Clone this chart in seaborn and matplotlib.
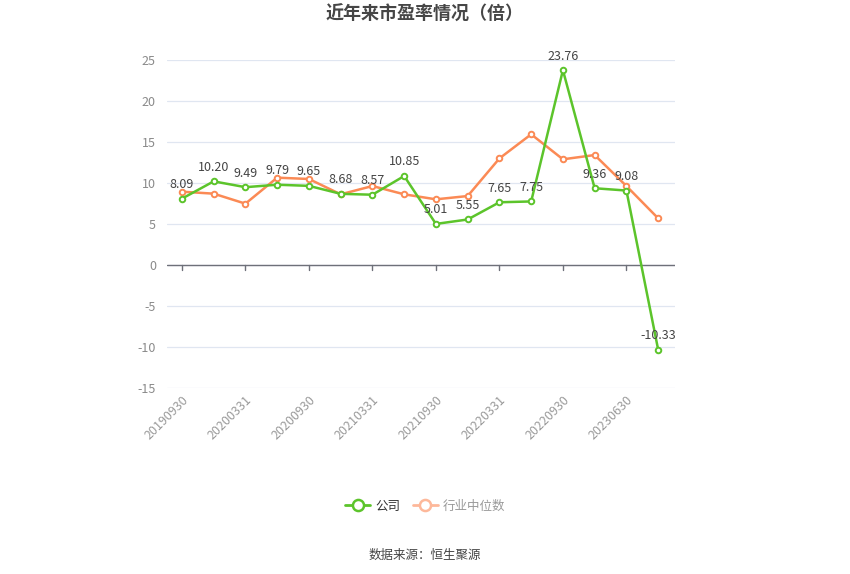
import matplotlib
matplotlib.use("Agg")
import matplotlib.pyplot as plt
from matplotlib.lines import Line2D
import seaborn as sns
import pandas as pd
import numpy as np

dates = ["20190930", "20191231", "20200331", "20200630", "20200930", "20201231",
         "20210331", "20210630", "20210930", "20211231", "20220331", "20220630",
         "20220930", "20221231", "20230630", "20230930"]
company = [8.09, 10.20, 9.49, 9.79, 9.65, 8.68, 8.57, 10.85, 5.01, 5.55, 7.65, 7.75,
           23.76, 9.36, 9.08, -10.33]
industry = [8.94, 8.70, 7.48, 10.65, 10.49, 8.62, 9.63, 8.62, 8.01, 8.41, 13.00, 15.94,
            12.89, 13.41, 9.63, 5.69]
shown_ticks = ["20190930", "20200331", "20200930", "20210331", "20210930", "20220331",
               "20220930", "20230630"]

sns.set_theme(style="white")
plt.rcParams["font.family"] = ["Noto Sans CJK SC", "DejaVu Sans"]

GREEN = "#5cc42b"
ORANGE = "#fb8a55"

df = pd.DataFrame({"x": np.arange(len(dates)), "date": dates,
                   "公司": company, "行业中位数": industry})

fig = plt.figure(figsize=(8.5, 5.74), dpi=100)
ax = fig.add_axes([167 / 850, 1 - 388 / 574, (675 - 167) / 850, (388 - 60) / 574])

sns.lineplot(data=df, x="x", y="行业中位数", ax=ax, color=ORANGE, linewidth=1.8,
             marker="o", markersize=4, markerfacecolor="white",
             markeredgecolor=ORANGE, markeredgewidth=1.4, legend=False, zorder=3)
sns.lineplot(data=df, x="x", y="公司", ax=ax, color=GREEN, linewidth=1.8,
             marker="o", markersize=4, markerfacecolor="white",
             markeredgecolor=GREEN, markeredgewidth=1.4, legend=False, zorder=4)

for i, v in enumerate(company):
    ax.annotate(f"{v:.2f}", (i, v), xytext=(0, 5.5), textcoords="offset points",
                ha="center", va="bottom", fontsize=9, color="#444444", zorder=5)

ax.set_xlim(-0.47, len(dates) - 0.47)
ax.set_ylim(-15, 25)
ax.set_yticks(np.arange(-15, 26, 5))
ax.set_yticklabels([str(v) for v in range(-15, 26, 5)], color="#8a8a8a", fontsize=9)
ax.grid(axis="y", color="#e0e6f1", linewidth=0.9)
ax.set_axisbelow(True)

tick_pos = [dates.index(d) for d in shown_ticks]
ax.set_xticks(tick_pos)
ax.set_xticklabels(shown_ticks, rotation=45, ha="right", rotation_mode="anchor",
                   color="#9a9a9a", fontsize=9)
ax.tick_params(axis="y", length=0, pad=8)
ax.tick_params(axis="x", length=0, pad=4)
for p in tick_pos:
    ax.plot([p, p], [0, -0.6], color="#6e7079", linewidth=1, clip_on=False, zorder=2)
ax.axhline(0, color="#6e7079", linewidth=1, zorder=2)
for s in ax.spines.values():
    s.set_visible(False)
ax.set_xlabel("")
ax.set_ylabel("")

fig.text(0.5, 1 - 14 / 574, "近年来市盈率情况（倍）", ha="center", va="center",
         fontsize=13, fontweight="bold", color="#464646")

handles = [
    Line2D([], [], color=GREEN, linewidth=2, marker="o", markersize=8,
           markerfacecolor="white", markeredgecolor=GREEN, markeredgewidth=1.8),
    Line2D([], [], color="#fdb89a", linewidth=2, marker="o", markersize=8,
           markerfacecolor="white", markeredgecolor="#fdb89a", markeredgewidth=1.8),
]
leg = fig.legend(handles, ["公司", "行业中位数"], loc="center",
                 bbox_to_anchor=(0.5, 1 - 506 / 574), ncol=2, frameon=False,
                 fontsize=9, handlelength=2.0, columnspacing=1.0, handletextpad=0.4)
leg.get_texts()[0].set_color("#333333")
leg.get_texts()[1].set_color("#9a9a9a")

fig.text(0.5, 1 - 555 / 574, "数据来源：恒生聚源", ha="center", va="center",
         fontsize=9, color="#444444")

fig.savefig("out.png", dpi=100)
